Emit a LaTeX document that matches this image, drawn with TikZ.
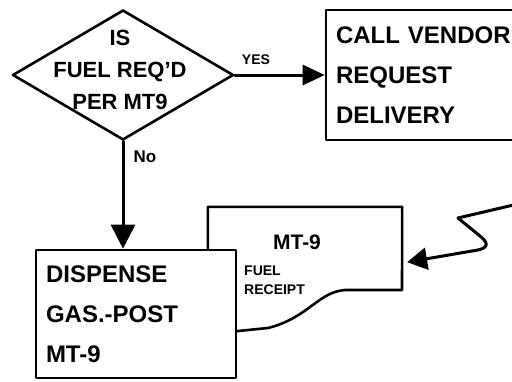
\documentclass[tikz,border=0pt]{standalone}
\usepackage{fontspec}
\setmainfont{Liberation Sans}
\usetikzlibrary{shapes.geometric,arrows.meta}

\begin{document}
\begin{tikzpicture}[
  x=1pt, y=-1pt,
  line cap=round, line join=round,
  every node/.style={font=\bfseries, inner sep=0pt},
  decision/.style={draw, diamond, line width=2.6pt, minimum width=221pt, minimum height=130pt},
  process/.style={draw, fill=white, rectangle, line width=2.6pt, align=left, inner sep=10pt,
    font=\bfseries\fontsize{24}{40}\selectfont},
  paper/.style={draw, fill=white, line width=2.6pt},
  flow/.style={line width=3pt, -{Triangle[length=22pt,width=20pt]}},
  tag/.style={font=\bfseries\fontsize{14}{15}\selectfont},
]
\useasboundingbox (0,0) rectangle (512,381);
\clip (0,0) rectangle (512,381);

\node[decision] (decide) at (123,75) {};
\node[align=center, font=\bfseries\fontsize{22}{32}\selectfont] (decidetext) at (120,70) {IS\\FUEL REQ'D\\PER MT9};
\node[process, text width=194pt, minimum height=130pt] (vendor) at (433,75) {CALL VENDOR\\REQUEST\\DELIVERY};

% receipt sits behind the dispense box
\node[minimum width=194pt, minimum height=112pt] (receipt) at (305,263) {};
\draw[paper] (receipt.north west) -- (receipt.north east) -- (402,290) -- (345,290)
  .. controls (318,292) and (308,318) .. (268,328) -- (208,334) -- cycle;
\node[font=\bfseries\fontsize{21}{24}\selectfont] (receiptform) at (297,242) {MT-9};
\node[anchor=west, align=left, font=\bfseries\fontsize{14}{19}\selectfont] (receiptname) at (244,280) {FUEL\\RECEIPT};

\node[process, text width=180pt, minimum height=128pt] (dispense) at (136,314) {DISPENSE\\GAS.-POST\\MT-9};

\draw[flow] (decide.east) -- (vendor.west);
\node[tag] (yes) at (256,60) {YES};
\draw[flow, -{Triangle[length=24pt,width=24pt]}] (decide.south) -- (decide.south |- dispense.north);
\node[tag, font=\bfseries\fontsize{17}{18}\selectfont] (no) at (145,157) {No};

\coordinate (sender) at (522,203);
\draw[flow, -{Triangle[length=20pt,width=22pt]}, shorten >=5pt] (sender) -- (458,218) -- (480,236)
  .. controls (491,245) and (487,249) .. (472,251) -- (receipt.east);
\end{tikzpicture}
\end{document}
